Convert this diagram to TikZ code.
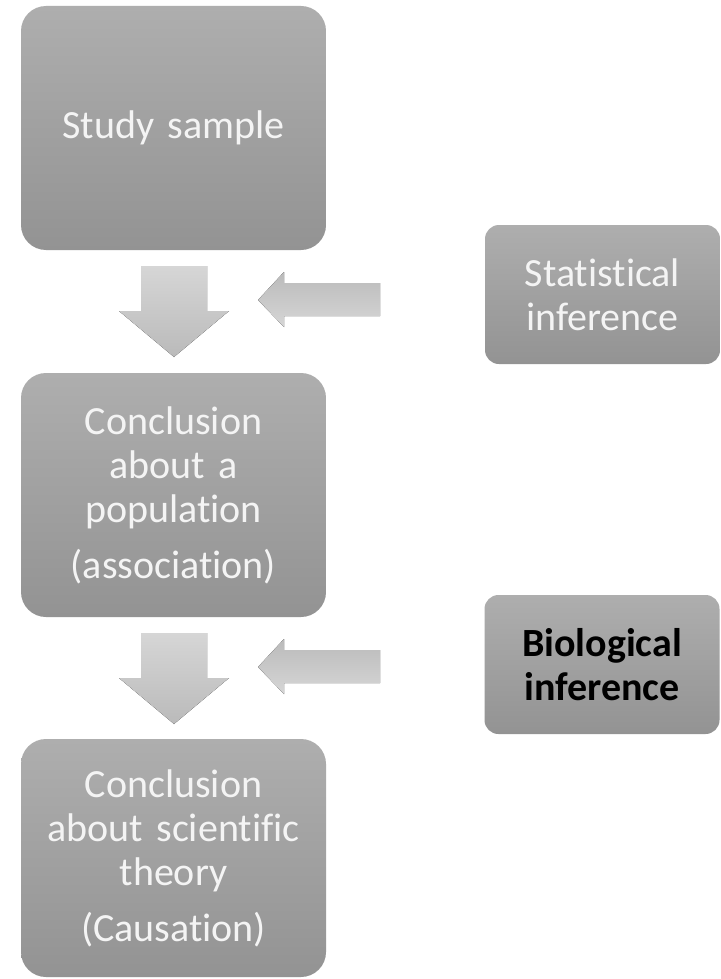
\documentclass[tikz,border=0pt]{standalone}
\usepackage{fontspec}
\setmainfont[Ligatures=NoCommon]{Carlito}
\definecolor{boxtop}{HTML}{AEAEAE}
\definecolor{boxbot}{HTML}{939393}
\definecolor{boxtext}{HTML}{F4F4F4}
\definecolor{arrlight}{HTML}{D6D6D6}
\definecolor{arrdark}{HTML}{BABABA}
\tikzset{
  bigbox/.style={rectangle, rounded corners=25pt, top color=boxtop, bottom color=boxbot,
    draw=none, minimum width=305pt, minimum height=244pt, text width=295pt, align=center,
    inner sep=0pt, text=boxtext, font=\fontsize{40}{44}\selectfont},
  sidebox/.style={bigbox, rounded corners=14pt, minimum width=235pt, minimum height=139pt,
    text width=225pt},
  downarr/.pic={\fill[top color=arrlight, bottom color=arrdark]
    (-33,0) -- (33,0) -- (33,45) -- (55,45) -- (0,91) -- (-55,45) -- (-33,45) -- cycle;},
  leftarr/.pic={\fill[top color=arrdark, bottom color=arrlight]
    (0,0) -- (26,-28) -- (26,-17) -- (122,-17) -- (122,16) -- (26,16) -- (26,27) -- cycle;}
}
\begin{document}
\begin{tikzpicture}[x=1pt,y=-1pt]
\useasboundingbox (0,0) rectangle (720,979);
\fill[white] (0,0) rectangle (720,979);
\node[bigbox] (s1) at (173.5,128) {Study sample};
\node[bigbox] (s2) at (173.5,495) {Conclusion\\about a\\population\\[12pt](association)};
\node[bigbox, minimum height=238pt] (s3) at (173.5,858) {Conclusion\\about scientific\\theory\\[12pt](Causation)};
\node[sidebox] (si) at (602.5,294.5) {Statistical\\inference};
\node[sidebox, text=black, font=\fontsize{40}{44}\selectfont\bfseries] (bi) at (602,664.5) {Biological\\inference};
\pic at (174,266) {downarr};
\pic at (258,300) {leftarr};
\pic at (174,633) {downarr};
\pic at (258,667) {leftarr};
\end{tikzpicture}
\end{document}
